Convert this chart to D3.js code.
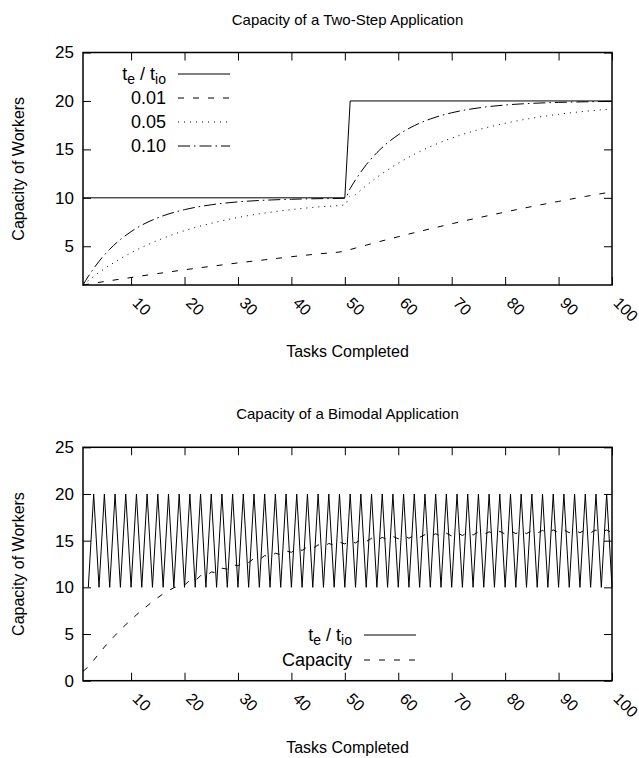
<!DOCTYPE html>
<html>
<head>
<script src="https://d3js.org/d3.v7.min.js"></script>
<style>
  body { margin: 0; background: #fff; }
  svg { display: block; }
  text { font-family: "Liberation Sans", Arial, Helvetica, sans-serif; font-size: 15px; fill: #000; }
  .tick line { stroke: #000; stroke-width: 1; }
</style>
</head>
<body>
<svg id="chart" width="639" height="758"></svg>
<script>
// ---- data ----
const xTicks = [10, 20, 30, 40, 50, 60, 70, 80, 90, 100];
const yTicksTop = [5, 10, 15, 20, 25];
const yTicksBottom = [0, 5, 10, 15, 20, 25];

// two-step application: t_e / t_io
const stepX = [1, 50, 51, 100];
const stepY = [10, 10, 20, 20];

// capacity estimates for the three smoothing factors
const smoothX = [1, 2, 3, 4, 6, 8, 10, 12, 15, 20, 25, 30, 35, 40, 45, 50,
                 51, 52, 53, 54, 56, 58, 60, 63, 66, 70, 75, 80, 85, 90, 95, 100];
const cap001 = [1.0, 1.09, 1.18, 1.27, 1.44, 1.61, 1.77, 1.94, 2.18, 2.57, 2.93, 3.28, 3.6, 3.92, 4.21, 4.5,
                4.66, 4.81, 4.96, 5.11, 5.41, 5.7, 5.98, 6.4, 6.8, 7.32, 7.94, 8.53, 9.1, 9.63, 10.14, 10.62];
const cap005 = [1.0, 1.45, 1.88, 2.29, 3.04, 3.72, 4.33, 4.88, 5.61, 6.61, 7.37, 7.97, 8.43, 8.78, 9.06, 9.27,
                10.19, 10.32, 10.8, 11.26, 12.11, 12.88, 13.57, 14.49, 15.28, 16.16, 17.03, 17.69, 18.22, 18.62, 18.93, 19.17];
const cap010 = [1.0, 1.9, 2.71, 3.44, 4.69, 5.7, 6.51, 7.18, 7.94, 8.78, 9.28, 9.58, 9.75, 9.85, 9.91, 9.95,
                10.96, 11.86, 12.67, 13.41, 14.66, 15.68, 16.5, 17.45, 18.14, 18.78, 19.28, 19.58, 19.75, 19.85, 19.91, 19.95];

// bimodal application: t_e / t_io for tasks 2..100
const bimodalY = [10, 20, 10, 20, 10, 20, 10, 20, 10, 20, 10, 20, 10, 20, 10, 20, 10, 20, 10, 20,
                  10, 20, 10, 20, 10, 20, 10, 20, 10, 20, 10, 20, 10, 20, 10, 20, 10, 20, 10, 20,
                  10, 20, 10, 20, 10, 20, 10, 20, 10, 20, 10, 20, 10, 20, 10, 20, 10, 20, 10, 20,
                  10, 20, 10, 20, 10, 20, 10, 20, 10, 20, 10, 20, 10, 20, 10, 20, 10, 20, 10, 20,
                  10, 20, 10, 20, 10, 20, 10, 20, 10, 20, 10, 20, 10, 20, 10, 20, 10, 20, 10];
// capacity for tasks 1..100
const bimodalCap = [1.0, 1.5, 2.2, 2.9, 3.6, 4.25, 4.85, 5.45, 6.0, 6.5,
                    7.05, 7.55, 8.0, 8.5, 8.9, 9.3, 9.65, 9.95, 10.15, 10.25,
                    10.75, 10.7, 11.25, 11.15, 11.65, 11.55, 12.05, 11.95, 12.45, 12.3,
                    12.75, 12.65, 13.1, 12.95, 13.4, 13.25, 13.65, 13.5, 13.9, 13.75,
                    14.15, 13.95, 14.35, 14.15, 14.55, 14.35, 14.7, 14.5, 14.85, 14.65,
                    15.0, 14.75, 15.15, 14.9, 15.25, 15.0, 15.35, 15.1, 15.45, 15.2,
                    15.55, 15.25, 15.6, 15.35, 15.65, 15.4, 15.75, 15.45, 15.8, 15.5,
                    15.85, 15.55, 15.9, 15.6, 15.95, 15.65, 15.95, 15.7, 16.0, 15.7,
                    16.05, 15.75, 16.05, 15.75, 16.1, 15.8, 16.1, 15.8, 16.15, 15.85,
                    16.15, 15.85, 16.15, 15.85, 16.15, 15.85, 16.15, 15.85, 16.15, 15.85];

const svg = d3.select("#chart");

// builds one framed panel with mirrored inward ticks, gnuplot style
function panel(opts) {
  const x = d3.scaleLinear().domain([1, 100]).range([83, 612]);
  const y = d3.scaleLinear().domain(opts.yDomain).range([opts.bottom, opts.top]);
  const g = svg.append("g");

  g.append("text")
    .attr("x", 347.5).attr("y", opts.top - 28)
    .attr("text-anchor", "middle")
    .text(opts.title);

  // bottom axis with rotated labels
  const xAxis = g.append("g")
    .attr("transform", "translate(0," + opts.bottom + ")")
    .call(d3.axisBottom(x).tickValues(xTicks).tickSizeInner(-8).tickSizeOuter(0));
  xAxis.selectAll("text")
    .attr("y", 0).attr("dy", "0.35em")
    .attr("text-anchor", "start")
    .style("font-size", "16px")
    .attr("transform", d => "translate(4,15) rotate(45)");

  g.append("g")
    .attr("transform", "translate(0," + opts.top + ")")
    .call(d3.axisTop(x).tickValues(xTicks).tickSizeInner(-8).tickSizeOuter(0).tickFormat(""));

  const yAxis = g.append("g")
    .attr("transform", "translate(83,0)")
    .call(d3.axisLeft(y).tickValues(opts.yTicks).tickSizeInner(-8).tickSizeOuter(0).tickPadding(9));
  yAxis.selectAll("text").style("font-size", "17px");

  g.append("g")
    .attr("transform", "translate(612,0)")
    .call(d3.axisRight(y).tickValues(opts.yTicks).tickSizeInner(-8).tickSizeOuter(0).tickFormat(""));

  g.selectAll(".domain").remove();
  g.selectAll(".tick text").attr("font-family", null).attr("font-size", null);

  g.append("rect")
    .attr("x", 83).attr("y", opts.top)
    .attr("width", 612 - 83).attr("height", opts.bottom - opts.top)
    .attr("fill", "none").attr("stroke", "#000").attr("stroke-width", 1.5);

  g.append("text")
    .attr("transform", "translate(24," + (opts.top + opts.bottom) / 2 + ") rotate(-90)")
    .attr("text-anchor", "middle")
    .style("font-size", "16px")
    .text("Capacity of Workers");

  g.append("text")
    .attr("x", 347.5).attr("y", opts.bottom + 72)
    .attr("text-anchor", "middle")
    .style("font-size", "16px")
    .text("Tasks Completed");

  return { g, x, y };
}

function series(p, xs, ys, dash, curve) {
  const line = d3.line()
    .x((d, i) => p.x(xs[i]))
    .y(d => p.y(d))
    .curve(curve || d3.curveLinear);
  p.g.append("path")
    .datum(ys)
    .attr("d", line)
    .attr("fill", "none")
    .attr("stroke", "#000")
    .attr("stroke-width", 1)
    .attr("stroke-dasharray", dash);
}

function legendRow(g, textX, lineX0, lineX1, yy, label, dash) {
  const t = g.append("text")
    .attr("x", textX).attr("y", yy + 6)
    .attr("text-anchor", "end")
    .style("font-size", "18px");
  if (label === "ratio") {
    t.append("tspan").text("t");
    t.append("tspan").attr("dy", 4).style("font-size", "14px").text("e");
    t.append("tspan").attr("dy", -4).text(" / t");
    t.append("tspan").attr("dy", 4).style("font-size", "14px").text("io");
  } else {
    t.text(label);
  }
  g.append("line")
    .attr("x1", lineX0).attr("x2", lineX1)
    .attr("y1", yy).attr("y2", yy)
    .attr("stroke", "#000").attr("stroke-width", 1)
    .attr("stroke-dasharray", dash);
}

const DASH = "6,9";
const DOT = "1,5";
const DASHDOT = "12,4,1.5,4";

// ---- top panel ----
const stepPanel = panel({
  title: "Capacity of a Two-Step Application",
  top: 52.5, bottom: 285, yDomain: [1, 25], yTicks: yTicksTop
});
series(stepPanel, stepX, stepY, null);
series(stepPanel, smoothX, cap001, DASH, d3.curveMonotoneX);
series(stepPanel, smoothX, cap005, DOT, d3.curveMonotoneX);
series(stepPanel, smoothX, cap010, DASHDOT, d3.curveMonotoneX);

legendRow(stepPanel.g, 166, 178, 230, 74, "ratio", null);
legendRow(stepPanel.g, 166, 178, 230, 98, "0.01", DASH);
legendRow(stepPanel.g, 166, 178, 230, 122, "0.05", DOT);
legendRow(stepPanel.g, 166, 178, 230, 146, "0.10", DASHDOT);

// ---- bottom panel ----
const bimodalPanel = panel({
  title: "Capacity of a Bimodal Application",
  top: 447.3, bottom: 680.7, yDomain: [0, 25], yTicks: yTicksBottom
});
const bimodalX = bimodalY.map((d, i) => i + 2);
const capX = bimodalCap.map((d, i) => i + 1);
series(bimodalPanel, bimodalX, bimodalY, null);
series(bimodalPanel, capX, bimodalCap, DASH);

legendRow(bimodalPanel.g, 352, 364, 416, 635, "ratio", null);
legendRow(bimodalPanel.g, 352, 364, 416, 660, "Capacity", DASH);
</script>
</body>
</html>
